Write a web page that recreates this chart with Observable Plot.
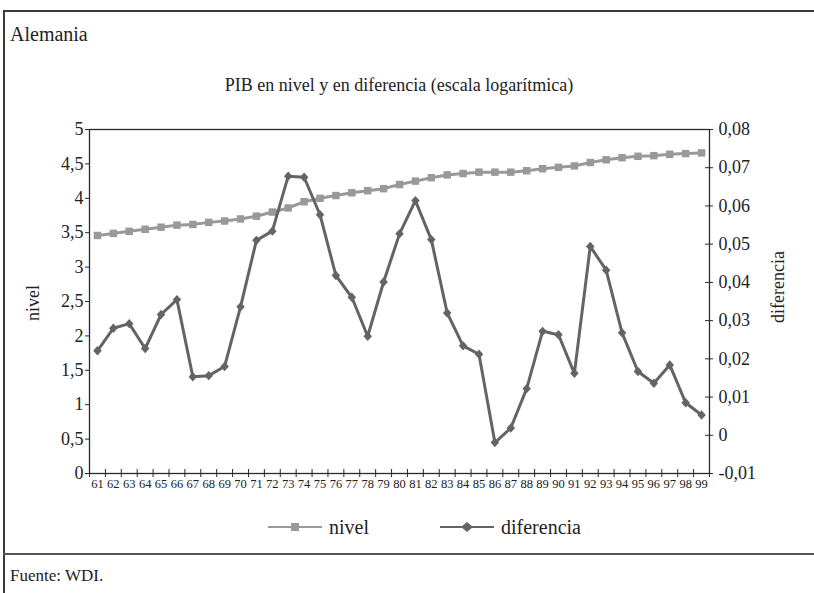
<!DOCTYPE html>
<html>
<head>
<meta charset="utf-8">
<script src="https://cdn.jsdelivr.net/npm/d3@7"></script>
<script src="https://cdn.jsdelivr.net/npm/@observablehq/plot@0.6"></script>
<style>
  html, body { margin: 0; padding: 0; background: #fff; }
  body { width: 814px; height: 593px; overflow: hidden; position: relative; font-family: "Liberation Serif", "DejaVu Serif", serif; color: #222; }
  .abs { position: absolute; }
  #box { left: 3px; top: 10px; width: 840px; height: 620px; border-left: 2px solid #3a3a3a; border-top: 2px solid #3a3a3a; box-sizing: border-box; }
  #sep { left: 3px; top: 553px; width: 840px; border-top: 2px solid #555; }
  #title { left: 10px; top: 22px; font-size: 20px; line-height: 24px; }
  #subtitle { left: 0; width: 798px; top: 74px; text-align: center; font-size: 18px; line-height: 22px; }
  #chart { left: 0; top: 110px; }
  #legend { top: 515px; left: 0; height: 24px; font-size: 20px; line-height: 24px; }
  .leg { position: absolute; top: 0; white-space: nowrap; }
  .ytitle { position: absolute; width: 120px; height: 24px; margin-left: -60px; margin-top: -12px; text-align: center; font-size: 18px; line-height: 24px; transform: rotate(-90deg); }
  #caption { left: 10px; top: 566px; font-size: 17px; line-height: 20px; }
</style>
</head>
<body>
<div id="box" class="abs"></div>
<div id="sep" class="abs"></div>
<div id="title" class="abs">Alemania</div>
<div id="subtitle" class="abs">PIB en nivel y en diferencia (escala logarítmica)</div>
<div id="chart" class="abs"></div>
<div id="ytitleL" class="ytitle"></div>
<div id="ytitleR" class="ytitle"></div>
<div id="legend" class="abs"></div>
<div id="caption" class="abs">Fuente: WDI.</div>
<script>
// ---- data ----
const years = ["61","62","63","64","65","66","67","68","69","70","71","72","73","74","75","76","77","78","79","80",
               "81","82","83","84","85","86","87","88","89","90","91","92","93","94","95","96","97","98","99"];
const nivel = [3.46, 3.49, 3.52, 3.55, 3.58, 3.61, 3.62, 3.65, 3.67, 3.70,
               3.74, 3.80, 3.86, 3.95, 4.00, 4.04, 4.08, 4.11, 4.14, 4.20,
               4.25, 4.30, 4.34, 4.36, 4.38, 4.38, 4.38, 4.40, 4.43, 4.45,
               4.47, 4.52, 4.56, 4.59, 4.61, 4.62, 4.64, 4.65, 4.66];
const diferencia = [0.0221, 0.0280, 0.0292, 0.0227, 0.0316, 0.0355, 0.0153, 0.0156, 0.0180, 0.0336,
                    0.0510, 0.0534, 0.0678, 0.0675, 0.0577, 0.0418, 0.0361, 0.0259, 0.0401, 0.0527,
                    0.0614, 0.0512, 0.0320, 0.0234, 0.0212, -0.0019, 0.0019, 0.0122, 0.0272, 0.0263,
                    0.0162, 0.0494, 0.0432, 0.0268, 0.0167, 0.0136, 0.0184, 0.0085, 0.0053];
const leftTicks = [0, 0.5, 1, 1.5, 2, 2.5, 3, 3.5, 4, 4.5, 5];
const leftTickLabels = ["0", "0,5", "1", "1,5", "2", "2,5", "3", "3,5", "4", "4,5", "5"];
const rightTicks = [-0.01, 0, 0.01, 0.02, 0.03, 0.04, 0.05, 0.06, 0.07, 0.08];
const rightTickLabels = ["-0,01", "0", "0,01", "0,02", "0,03", "0,04", "0,05", "0,06", "0,07", "0,08"];
const seriesNames = ["nivel", "diferencia"];

// ---- styling ----
const colNivel = "#999999";
const colDif = "#646464";
const ink = "#222222";
const font = "'Liberation Serif', 'DejaVu Serif', serif";

const yMin = 0, yMax = 5, rMin = -0.01, rMax = 0.08;
const toLeft = d => yMin + (d - rMin) * (yMax - yMin) / (rMax - rMin);

const rows = years.map((y, i) => ({x: Number(y), label: y, nivel: nivel[i], dif: toLeft(diferencia[i])}));
const edges = [Number(years[0]) - 0.5, ...years.map(y => Number(y) + 0.5)];
const xLo = Number(years[0]) - 0.5, xHi = Number(years[years.length - 1]) + 0.5;

const diamond = {
  draw(ctx, size) {
    const r = Math.sqrt(size / 2);
    ctx.moveTo(0, -r * 1.1); ctx.lineTo(r, 0); ctx.lineTo(0, r * 1.1); ctx.lineTo(-r, 0); ctx.closePath();
  }
};

const chart = Plot.plot({
  width: 814,
  height: 390,
  marginLeft: 89,
  marginRight: 105,
  marginTop: 19,
  marginBottom: 27,
  style: {fontFamily: font, fontSize: "18px", color: ink, background: "transparent", overflow: "visible"},
  x: {type: "linear", domain: [xLo, xHi]},
  y: {domain: [yMin, yMax]},
  marks: [
    Plot.frame({stroke: "#2a2a2a", strokeWidth: 1.3}),
    // left axis
    Plot.axisY({anchor: "left", ticks: leftTicks, tickSize: 4, tickPadding: 2, fontSize: 18, fill: ink,
      tickFormat: v => leftTickLabels[leftTicks.indexOf(v)], label: null, stroke: "#2a2a2a"}),
    // right axis (diferencia)
    Plot.axisY({anchor: "right", ticks: rightTicks.map(toLeft), tickSize: 0, tickPadding: 9, fontSize: 18, fill: ink,
      tickFormat: v => rightTickLabels[rightTicks.findIndex(t => Math.abs(toLeft(t) - v) < 1e-6)], label: null}),
    Plot.ruleY(rightTicks.map(toLeft), {x1: xHi, x2: xHi, insetLeft: -4, insetRight: -4, stroke: "#2a2a2a"}),
    // x axis: ticks at category boundaries, labels at centers
    Plot.ruleX(edges, {y1: yMin, y2: yMin, insetTop: -4, insetBottom: -4, stroke: "#2a2a2a"}),
    Plot.axisX({ticks: rows.map(d => d.x), tickSize: 0, tickPadding: 6, fontSize: 12.5, fill: ink,
      tickFormat: v => years[rows.findIndex(d => d.x === v)], label: null}),
    // series
    Plot.line(rows, {x: "x", y: "nivel", stroke: colNivel, strokeWidth: 3}),
    Plot.dot(rows, {x: "x", y: "nivel", symbol: "square", r: 4.2, fill: colNivel, stroke: null}),
    Plot.line(rows, {x: "x", y: "dif", stroke: colDif, strokeWidth: 3}),
    Plot.dot(rows, {x: "x", y: "dif", symbol: diamond, r: 3.4, fill: colDif, stroke: null})
  ]
});
document.getElementById("chart").append(chart);

// ---- axis titles ----
const tL = document.getElementById("ytitleL");
tL.textContent = seriesNames[0];
tL.style.left = "33px"; tL.style.top = "303px";
const tR = document.getElementById("ytitleR");
tR.textContent = seriesNames[1];
tR.style.left = "778px"; tR.style.top = "287px";

// ---- legend ----
const legend = document.getElementById("legend");
const legItems = [
  {name: seriesNames[0], color: colNivel, shape: "square", left: 268},
  {name: seriesNames[1], color: colDif, shape: "diamond", left: 440}
];
for (const it of legItems) {
  const el = document.createElement("div");
  el.className = "leg";
  el.style.left = it.left + "px";
  const mk = it.shape === "square"
    ? `<rect x="23" y="8" width="8" height="8" fill="${it.color}"/>`
    : `<path d="M27,7 L33,12 L27,17 L21,12 Z" fill="${it.color}"/>`;
  el.innerHTML = `<svg width="54" height="24" style="vertical-align:top"><line x1="0" x2="54" y1="12" y2="12" stroke="${it.color}" stroke-width="2"/>${mk}</svg><span style="margin-left:7px">${it.name}</span>`;
  legend.append(el);
}
</script>
</body>
</html>
